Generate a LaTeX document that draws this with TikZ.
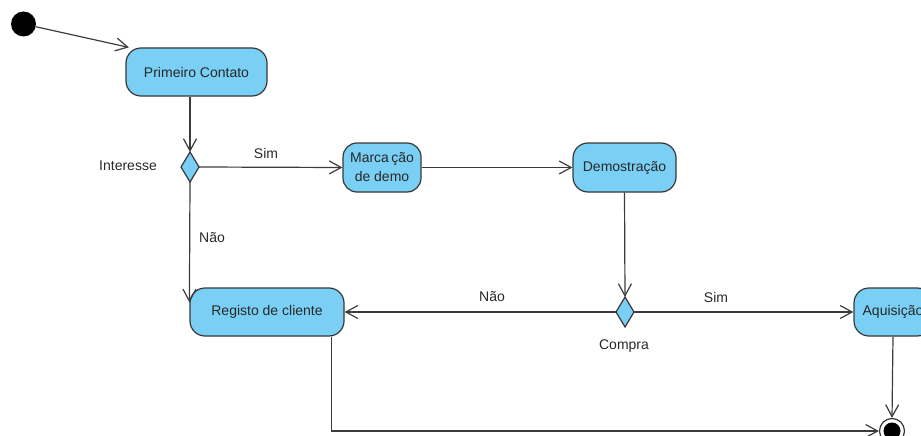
\documentclass[tikz,border=0pt]{standalone}
\usepackage{fontspec}
\setmainfont{Liberation Sans}
\usetikzlibrary{arrows.meta,calc}
\definecolor{actfill}{RGB}{122,207,245}
\definecolor{actline}{RGB}{55,55,55}
\definecolor{flow}{RGB}{60,60,60}
\definecolor{txt}{RGB}{40,40,40}
\begin{document}
\begin{tikzpicture}[x=1pt,y=-1pt,
  font=\fontsize{14}{19}\selectfont,
  action/.style={draw=actline, line width=1.2pt, fill=actfill, rounded corners=15pt,
    minimum height=48pt, inner sep=2pt, align=center, text=txt},
  choice/.style={draw=actline, line width=1.2pt, fill=actfill, inner sep=0pt},
  lbl/.style={text=txt, inner sep=0pt},
  flowline/.style={draw=flow, line width=1.2pt},
  flowarrow/.style={flowline, -{Straight Barb[length=12pt,width=13pt,line width=1.2pt]}}]
\useasboundingbox (0,0) rectangle (921,436);

% start and end
\node[circle, fill=black, minimum size=25pt, inner sep=0pt] (start) at (23.5,24) {};
\node[circle, draw=actline, line width=1.2pt, fill=white, minimum size=25pt, inner sep=0pt] (fin) at (892,431) {};
\node[circle, fill=black, minimum size=17pt, inner sep=0pt] (finin) at (fin) {};

% actions
\node[action, minimum width=141pt] (pc) at (196.5,72) {Primeiro Contato};
\node[action, minimum width=78pt, minimum height=49pt, rounded corners=14pt] (md) at (382,167.5) {Marca\,ção\\de demo};
\node[action, minimum width=103pt, minimum height=49pt] (dm) at (624.5,167.5) {Demostração};
\node[action, minimum width=154pt] (reg) at (267,312) {Registo de cliente};
\node[action, minimum width=78pt] (aq) at (893,312) {Aquisição};

% decisions
\path[choice] (190,152) -- (199,167) -- (190,182) -- (181,167) -- cycle;
\coordinate (d1n) at (190,152);
\coordinate (d1s) at (190,182);
\coordinate (d1e) at (199,167);
\path[choice] (625,297) -- (634,312) -- (625,327) -- (616,312) -- cycle;
\coordinate (d2n) at (625,297);
\coordinate (d2e) at (634,312);
\coordinate (d2w) at (616,312);

% labels
\node[lbl] (linteresse) at (128,166) {Interesse};
\node[lbl] (lsim1) at (266,153) {Sim};
\node[lbl] (lnao1) at (212,238) {Não};
\node[lbl] (lnao2) at (492,297) {Não};
\node[lbl] (lsim2) at (716,297) {Sim};
\node[lbl] (lcompra) at (624,346) {Compra};

% flows
\draw[flowarrow] (start) -- (pc.160);
\draw[flowarrow] (d1n |- pc.south) -- (d1n);
\draw[flowarrow] (d1e) -- (md.west);
\draw[flowarrow] (d1s) -- ([yshift=-15pt]reg.north west);
\draw[flowarrow] (md.east) -- (dm.west);
\draw[flowarrow] (dm.south) -- (d2n);
\draw[flowarrow] (d2w) -- (reg.east);
\draw[flowarrow] (d2e) -- (aq.west);
\draw[flowarrow] (aq.south) -- (fin.north);
\draw[flowarrow] ([xshift=-13pt]reg.south east) |- (fin.west);
\end{tikzpicture}
\end{document}
